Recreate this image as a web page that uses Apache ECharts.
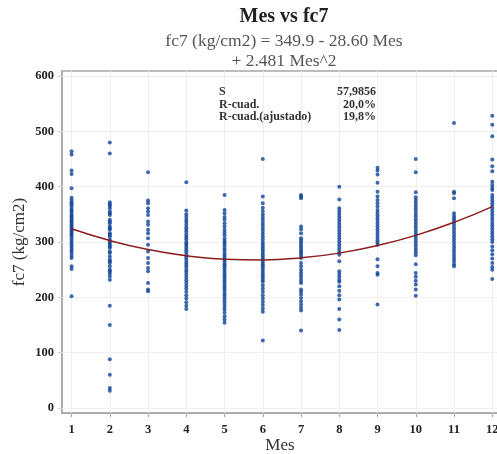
<!DOCTYPE html>
<html><head><meta charset="utf-8">
<script src="https://cdn.jsdelivr.net/npm/echarts@6/dist/echarts.min.js"></script>
<style>html,body{margin:0;padding:0;background:#fff}#c{width:497px;height:454px}</style>
</head><body><div id="c"></div>
<script>
// ---- data ----
const months = [1,2,3,4,5,6,7,8,9,10,11,12];
const yTicks = [0,100,200,300,400,500,600];
const fc7_m1 = [464,458,429,423,397,380,376,372,369,366,362,358,355,351,348,345,342,339,336,333,330,327,324,321,318,315,312,308,304,300,296,292,288,284,280,275,271,256,251,202];
const fc7_m2 = [480,460,372,368,365,361,355,352,349,340,337,334,328,325,322,316,313,310,304,301,298,295,292,289,283,280,274,268,265,262,256,250,247,243,238,232,185,150,88,60,36,31];
const fc7_m3 = [426,375,370,361,355,349,337,331,322,316,307,295,283,271,262,253,247,226,214,211];
const fc7_m4 = [408,357,350,345,340,336,331,326,322,318,313,309,305,300,297,293,289,285,281,276,272,268,263,259,255,250,246,241,236,231,226,221,216,210,204,198,191,185,179];
const fc7_m5 = [385,358,352,345,340,334,328,322,317,312,306,302,298,294,289,285,280,276,272,268,264,260,256,252,248,244,240,236,232,228,224,220,216,212,207,203,198,193,188,183,178,172,166,160,154];
const fc7_m6 = [450,382,370,362,356,350,345,340,335,330,325,320,315,310,305,300,296,292,288,284,280,276,272,268,264,260,256,252,248,244,240,236,232,228,222,216,210,204,198,192,186,180,174,122];
const fc7_m7 = [385,382,379,328,323,316,307,303,299,295,291,287,283,279,275,271,262,256,250,245,240,235,230,226,214,210,205,199,193,187,181,176,140];
const fc7_m8 = [400,377,361,356,351,346,341,336,331,326,321,316,311,306,301,296,291,286,281,277,265,247,242,237,232,228,220,212,204,196,179,160,141];
const fc7_m9 = [434,429,422,407,391,382,376,370,364,358,353,348,343,338,333,328,323,318,313,308,303,299,295,269,256,244,241,187];
const fc7_m10 = [450,426,390,381,376,371,366,361,356,351,346,341,336,331,326,321,316,311,306,301,296,291,286,281,276,260,244,237,230,223,214,203];
const fc7_m11 = [515,391,388,379,352,347,343,339,335,330,325,320,315,310,305,300,295,290,285,280,275,270,265,260,256];
const fc7_m12 = [528,512,491,449,437,428,409,403,398,394,385,380,375,370,365,360,355,350,345,340,335,330,325,320,315,310,305,300,292,285,278,270,262,255,250,233];
// fitted curve values at each month (fc7 = 349.9 - 28.60 Mes + 2.481 Mes^2)
const fitValues = [323.8,302.6,286.4,275.2,268.9,267.6,271.3,279.9,293.5,312.0,335.5,364.0];
const titleText = "Mes vs fc7";
const subtitleText = "fc7 (kg/cm2) = 349.9 - 28.60 Mes\n+ 2.481 Mes^2";
const statLabels = ["S","R-cuad.","R-cuad.(ajustado)"];
const statValues = ["57,9856","20,0%","19,8%"];

const columns = [fc7_m1,fc7_m2,fc7_m3,fc7_m4,fc7_m5,fc7_m6,fc7_m7,fc7_m8,fc7_m9,fc7_m10,fc7_m11,fc7_m12];
const scatterData = [];
columns.forEach((col,i)=>col.forEach(v=>scatterData.push([months[i],v])));
const fitData = months.map((m,i)=>[m,fitValues[i]]);

const serif = '"Liberation Serif","DejaVu Serif",serif';
const gridCol = '#efefef';
const chart = echarts.init(document.getElementById('c'));
const graphics = [];
statLabels.forEach((s,i)=>{
  graphics.push({type:'text',left:219,top:86+i*12.7,z:10,style:{text:s,font:'bold 12px '+serif,fill:'#333'}});
  graphics.push({type:'text',right:121,top:86+i*12.7,z:10,style:{text:statValues[i],font:'bold 12px '+serif,fill:'#333',align:'right'}});
});
chart.setOption({
  animation:false,
  title:[{text:titleText,left:279,textAlign:'center',top:2,textStyle:{fontFamily:serif,fontWeight:'bold',fontSize:20,color:'#222'}},
         {text:subtitleText,left:279,textAlign:'center',top:26,textStyle:{fontFamily:serif,fontWeight:'normal',fontSize:17.5,color:'#555',lineHeight:20}}],
  grid:{left:62,top:71,right:-1,bottom:41,outerBoundsMode:'none',containLabel:false,show:true,borderColor:'#a6a6a6',borderWidth:1.5,backgroundColor:'#fff'},
  xAxis:{type:'value',min:0.75,max:12.15,name:'Mes',nameLocation:'middle',nameGap:24,nameMoveOverlap:false,
    nameTextStyle:{fontFamily:serif,fontSize:17,color:'#333'},
    axisLine:{show:true,onZero:false,lineStyle:{color:'#a6a6a6',width:1.5}},
    axisTick:{show:true,length:4,customValues:months,lineStyle:{color:'#a6a6a6'}},
    axisLabel:{customValues:months,fontFamily:serif,fontWeight:'bold',fontSize:12.5,color:'#222',margin:10},
    splitLine:{show:false}},
  yAxis:{type:'value',min:-9,max:609,name:'fc7 (kg/cm2)',nameLocation:'middle',nameGap:34,nameMoveOverlap:false,
    nameTextStyle:{fontFamily:serif,fontSize:17,color:'#333'},
    axisLine:{show:true,onZero:false,lineStyle:{color:'#a6a6a6',width:1.5}},
    axisTick:{show:true,length:4,customValues:yTicks,lineStyle:{color:'#cccccc'}},
    axisLabel:{customValues:yTicks,fontFamily:serif,fontWeight:'bold',fontSize:12.5,color:'#222',margin:8},
    splitLine:{show:false}},
  graphic:graphics,
  series:[
    {type:'line',data:[],z:1,silent:true,
     markLine:{silent:true,symbol:'none',label:{show:false},animation:false,z:1,
       lineStyle:{color:gridCol,width:1,type:'solid'},
       emphasis:{disabled:true},
       data:months.map(m=>({xAxis:m})).concat(yTicks.map(v=>({yAxis:v})))}},
    {type:'scatter',data:scatterData,symbolSize:4,itemStyle:{color:'#0f4597'},z:3},
    {type:'line',data:fitData,smooth:true,showSymbol:false,lineStyle:{color:'#8b1c1c',width:1.5},z:4}
  ]
});
</script></body></html>
